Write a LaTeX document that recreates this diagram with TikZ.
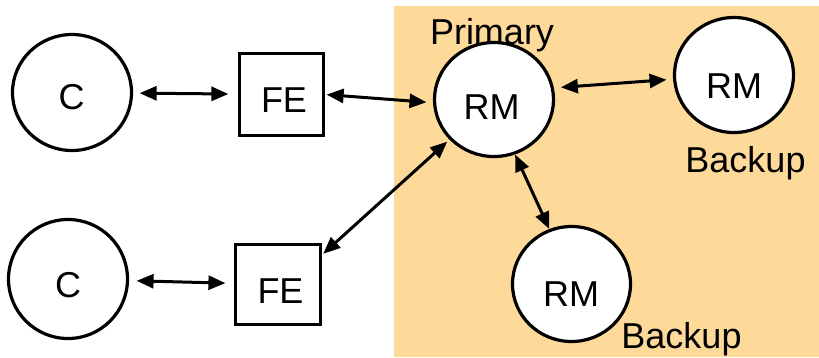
\documentclass[tikz,border=0pt]{standalone}
\usepackage{fontspec}
\setmainfont{Liberation Sans}
\usetikzlibrary{arrows.meta,shapes.geometric}
\definecolor{peach}{RGB}{253,218,153}
\begin{document}
\begin{tikzpicture}[x=1pt,y=-1pt,
  txt/.style={font=\fontsize{36}{40}\selectfont, inner sep=0pt},
  circ/.style={ellipse, draw, line width=3.2pt, fill=white, inner sep=0pt},
  box/.style={rectangle, draw, line width=3.2pt, fill=white, inner sep=0pt},
  link/.style={line width=3pt, {Triangle[length=17pt,width=14pt]}-{Triangle[length=17pt,width=14pt]}}]
\useasboundingbox (0,0) rectangle (819,357);
\fill[peach] (394,6) rectangle (819,357);
% shapes
\node[circ, minimum width=119pt, minimum height=116pt] (c1) at (72,92.5) {};
\node[circ, minimum width=119pt, minimum height=119pt] (c2) at (68,279) {};
\node[box, minimum width=84pt, minimum height=82pt] (fe1) at (281.5,94.5) {};
\node[box, minimum width=85pt, minimum height=80pt] (fe2) at (278,284.5) {};
\node[circ, minimum width=119pt, minimum height=114pt] (rmp) at (494,99.5) {};
\node[circ, minimum width=119pt, minimum height=115pt] (rmr) at (734,75) {};
\node[circ, minimum width=118pt, minimum height=115pt] (rmb) at (571.5,284) {};
% texts
\node[txt] (c1t) at (71.5,97.5) {C};
\node[txt] (c2t) at (68,285.5) {C};
\node[txt] (fe1t) at (284,100.5) {FE};
\node[txt] (fe2t) at (280.5,291) {FE};
\node[txt] (rmpt) at (491.5,107) {RM};
\node[txt] (rmrt) at (734,86) {RM};
\node[txt] (rmbt) at (571,294) {RM};
\node[txt, anchor=base] (tp) at (492,44) {Primary};
\node[txt, anchor=base] (tb1) at (745.5,172) {Backup};
\node[txt, anchor=base] (tb2) at (681.5,348) {Backup};
% connectors
\draw[link, shorten <=6.5pt, shorten >=9.5pt] (c1) -- (fe1);
\draw[link, shorten <=7.5pt, shorten >=8.5pt] (c2) -- (fe2);
\draw[link, shorten <=1.5pt, shorten >=6.5pt] (fe1.east) -- (rmp.183);
\draw[link, shorten <=1.5pt, shorten >=3pt] (fe2.34) -- (rmp.222);
\draw[link, shorten <=7pt, shorten >=6.5pt] (rmp.11) -- (rmr.184);
\draw[link, shorten <=0pt, shorten >=0pt] (rmp.291) -- (rmb.112);
\end{tikzpicture}
\end{document}
